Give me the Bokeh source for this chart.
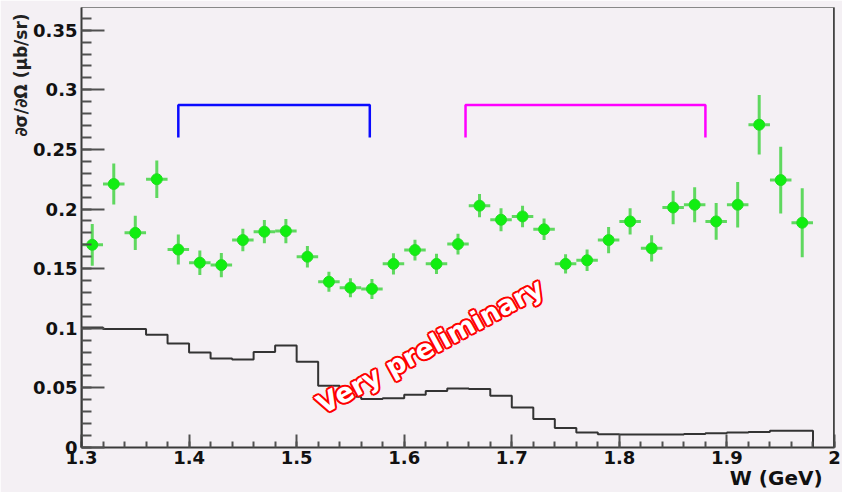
import math
from bokeh.plotting import figure
from bokeh.models import FixedTicker, CustomJSTickFormatter, Label, Span, Range1d, Title
from bokeh.embed import file_html
from bokeh.resources import INLINE

# ---- data ----
w_centers = [1.31, 1.33, 1.35, 1.37, 1.39, 1.41, 1.43, 1.45, 1.47, 1.49,
             1.51, 1.53, 1.55, 1.57, 1.59, 1.61, 1.63, 1.65, 1.67, 1.69,
             1.71, 1.73, 1.75, 1.77, 1.79, 1.81, 1.83, 1.85, 1.87, 1.89,
             1.91, 1.93, 1.95, 1.97]
dsigma = [0.170, 0.221, 0.180, 0.225, 0.166, 0.155, 0.153, 0.174, 0.181, 0.1815,
          0.160, 0.139, 0.134, 0.133, 0.154, 0.1656, 0.154, 0.1706, 0.2028, 0.191,
          0.1938, 0.183, 0.154, 0.157, 0.174, 0.1896, 0.167, 0.2013, 0.2036, 0.1896,
          0.2036, 0.2707, 0.2243, 0.1885]
dsigma_err = [0.0175, 0.0172, 0.0144, 0.0157, 0.0126, 0.0103, 0.0102, 0.0095, 0.0098, 0.0102,
              0.0090, 0.0083, 0.0080, 0.0084, 0.0090, 0.0087, 0.0084, 0.0087, 0.0098, 0.0097,
              0.0090, 0.0090, 0.0080, 0.0090, 0.0110, 0.0110, 0.0110, 0.0140, 0.0147, 0.0154,
              0.0190, 0.0250, 0.0280, 0.0290]
w_half_width = 0.01

hist_edges = [1.30, 1.32, 1.34, 1.36, 1.38, 1.40, 1.42, 1.44, 1.46, 1.48,
              1.50, 1.52, 1.54, 1.56, 1.58, 1.60, 1.62, 1.64, 1.66, 1.68,
              1.70, 1.72, 1.74, 1.76, 1.78, 1.80, 1.82, 1.84, 1.86, 1.88,
              1.90, 1.92, 1.94, 1.96, 1.98]
hist_values = [0.1006, 0.0993, 0.0993, 0.0945, 0.0873, 0.0797, 0.0747, 0.0738, 0.0800, 0.0856,
               0.0719, 0.0518, 0.0425, 0.0406, 0.0414, 0.0442, 0.0473, 0.0495, 0.0490, 0.0434,
               0.0336, 0.0238, 0.0163, 0.0126, 0.0112, 0.0110, 0.0110, 0.0110, 0.0113, 0.0120,
               0.0126, 0.0130, 0.0140, 0.0140]

bracket_blue_x = [1.39, 1.568]
bracket_magenta_x = [1.657, 1.880]
bracket_y = [0.260, 0.2873]

x_ticks = [1.3, 1.4, 1.5, 1.6, 1.7, 1.8, 1.9, 2.0]
x_minor = [round(1.30 + 0.02 * i, 2) for i in range(36)]
y_ticks = [0.0, 0.05, 0.10, 0.15, 0.20, 0.25, 0.30, 0.35]
y_minor = [round(0.01 * i, 2) for i in range(37)]

x_title = "W   (GeV)"
y_title = "\u2202\u03c3/\u2202\u03a9  (\u03bcb/sr)"
watermark = "Very preliminary"

BG = "#f4f0f4"
AX = "#3a3a3a"
FONT = "DejaVu Sans"

p = figure(width=842, height=492, output_backend="svg", toolbar_location=None,
           x_range=Range1d(1.3, 2.0), y_range=Range1d(0.0, 0.369),
           min_border_left=81, min_border_right=8, min_border_top=7, min_border_bottom=45,
           background_fill_color=BG, border_fill_color=BG)
p.grid.visible = False
p.outline_line_color = "#888888"
p.outline_line_width = 1

fmt = CustomJSTickFormatter(code="return tick.toFixed(2).replace(/\\.?0+$/, '');")
for ax, ticks, minor, tin, mtin in ((p.xaxis[0], x_ticks, x_minor, 13, 6),
                                      (p.yaxis[0], y_ticks, y_minor, 23, 10)):
    ax.ticker = FixedTicker(ticks=ticks, minor_ticks=minor)
    ax.formatter = fmt
    ax.major_tick_in = tin
    ax.major_tick_out = 0
    ax.minor_tick_in = mtin
    ax.minor_tick_out = 0
    ax.axis_line_color = AX
    ax.axis_line_width = 2
    ax.major_tick_line_color = "#505050"
    ax.major_tick_line_width = 2
    ax.minor_tick_line_color = "#505050"
    ax.minor_tick_line_width = 2
    ax.major_label_text_font = FONT
    ax.major_label_text_font_style = "bold"
    ax.major_label_text_font_size = "18px"
    ax.major_label_text_color = "#111111"
p.xaxis.major_label_standoff = 3
p.yaxis.major_label_standoff = 4

# axis titles (ROOT style: at the far end of each axis)
p.add_layout(Title(text=x_title, align="right", standoff=-5, offset=-2, text_font=FONT,
                   text_font_style="bold", text_font_size="20px", text_color="#111111"), "below")
p.add_layout(Title(text=y_title, align="right", standoff=0, text_font=FONT, text_font_style="bold",
                   text_font_size="17px", text_color="#222222"), "left")

# right frame edge (thicker, dark)
p.add_layout(Span(location=2.0, dimension="height", line_color="#444444", line_width=3))

# histogram (step outline)
hx = [hist_edges[0]]
hy = [0.0]
for i, v in enumerate(hist_values):
    hx += [hist_edges[i], hist_edges[i + 1]]
    hy += [v, v]
hx.append(hist_edges[-1])
hy.append(0.0)
p.line(hx, hy, line_color="#333333", line_width=2)

# error bars and points
p.segment(x0=w_centers, x1=w_centers,
          y0=[v - e for v, e in zip(dsigma, dsigma_err)],
          y1=[v + e for v, e in zip(dsigma, dsigma_err)],
          line_color="#5fd85f", line_width=3)
p.segment(x0=[c - w_half_width for c in w_centers], x1=[c + w_half_width for c in w_centers],
          y0=dsigma, y1=dsigma, line_color="#5fd85f", line_width=3)
p.scatter(w_centers, dsigma, size=11, fill_color="#11ee11", line_color="#22dd22", line_width=1)

# brackets
for bx, col in ((bracket_blue_x, "#0a0aff"), (bracket_magenta_x, "#ff00ff")):
    p.line([bx[0], bx[0], bx[1], bx[1]], [bracket_y[0], bracket_y[1], bracket_y[1], bracket_y[0]],
           line_color=col, line_width=2.5)

# "Very preliminary" outlined text
ang = math.radians(28.5)
tx, ty = 1.5205, 0.0345
offs = [(-2, 0), (2, 0), (0, -2), (0, 2), (-1.5, -1.5), (1.5, -1.5), (-1.5, 1.5), (1.5, 1.5)]
for dx, dy in offs:
    p.add_layout(Label(x=tx, y=ty, x_offset=dx, y_offset=dy, text=watermark, angle=ang,
                       text_font=FONT, text_font_style="bold", text_font_size="27px",
                       text_color="#ff0000", text_align="left", text_baseline="alphabetic"))
p.add_layout(Label(x=tx, y=ty, text=watermark, angle=ang,
                   text_font=FONT, text_font_style="bold", text_font_size="27px",
                   text_color="#ffffff", text_align="left", text_baseline="alphabetic"))

open("out.html", "w").write(file_html(p, INLINE))
